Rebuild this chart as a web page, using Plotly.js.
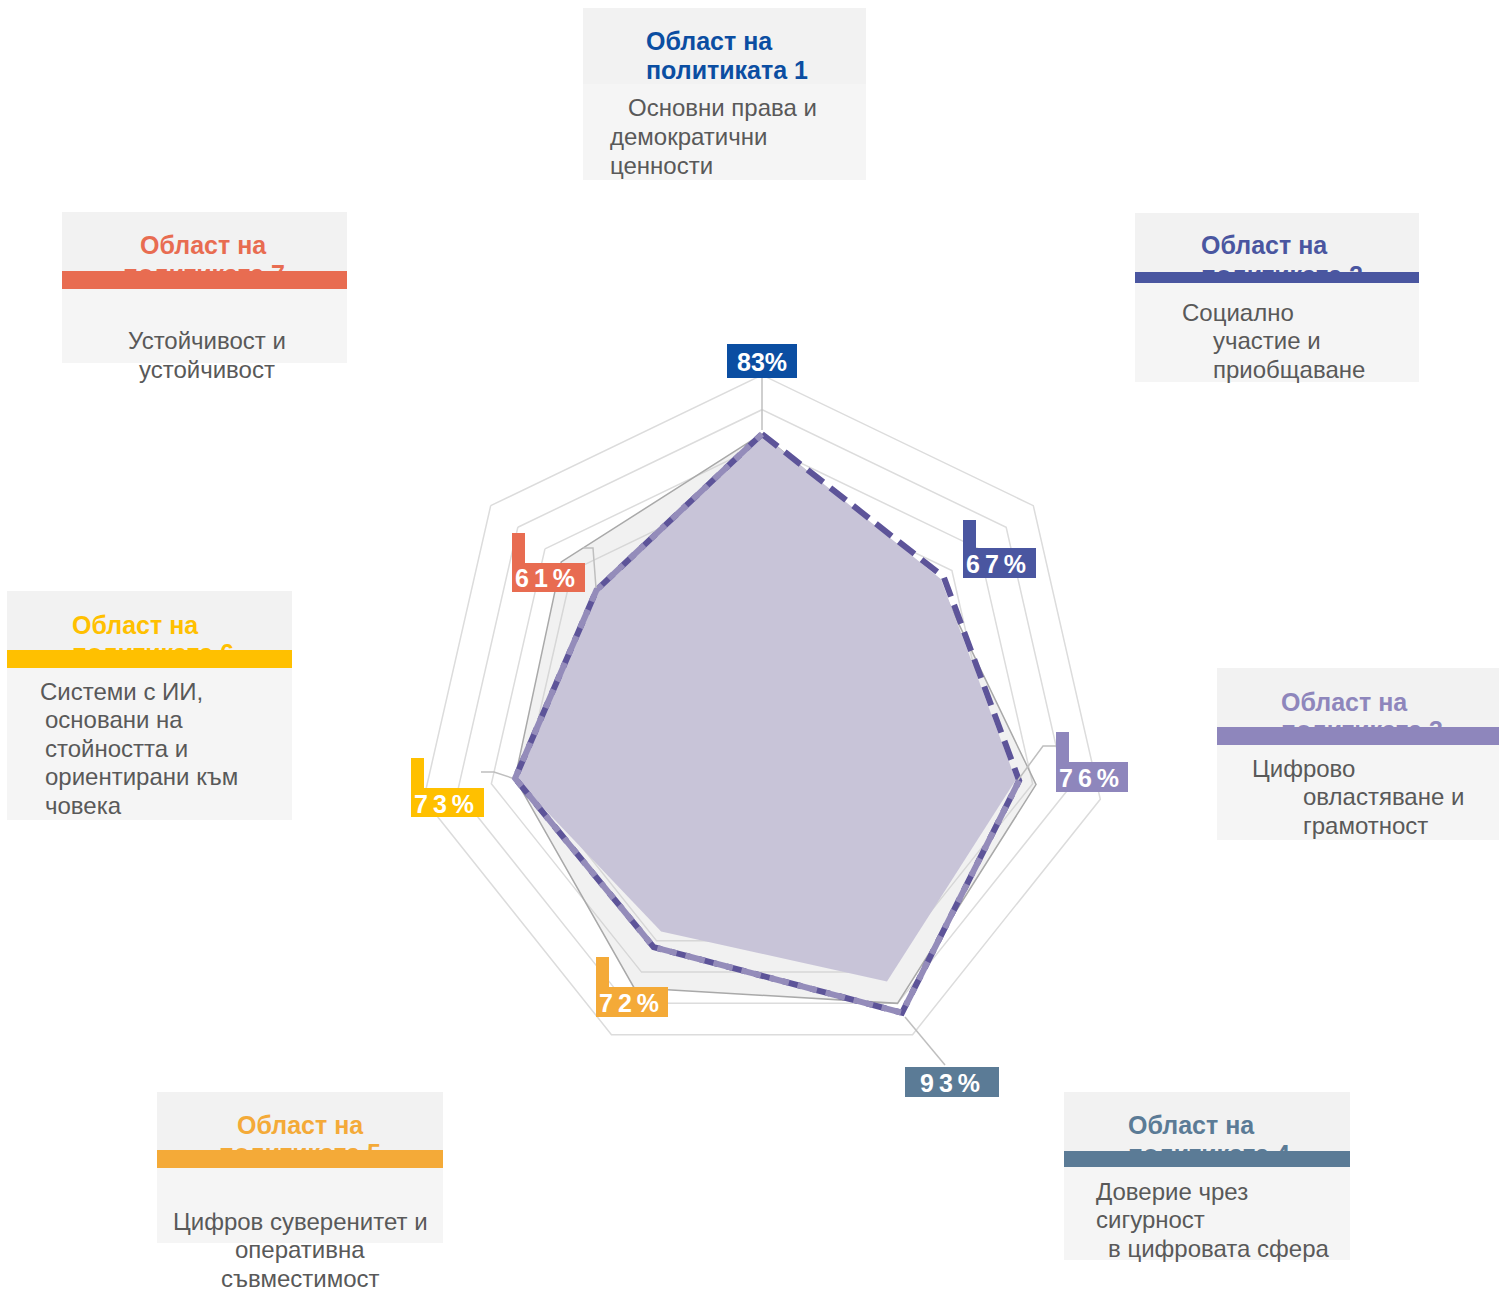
<!DOCTYPE html>
<html>
<head>
<meta charset="utf-8">
<script src="https://cdn.plot.ly/plotly-3.0.1.min.js"></script>
<style>
  html, body { margin: 0; padding: 0; background: #fff; }
</style>
</head>
<body>
<div id="chart" style="width:1499px;height:1292px"></div>
<script>
const W = 1499, H = 1292;

// ---- data ----
const areas = ["Област 1", "Област 2", "Област 3", "Област 4", "Област 5", "Област 6", "Област 7"];
const areaColors = ["#0b4ea2", "#4a56a0", "#8e86bc", "#5b7b96", "#f4aa38", "#ffc000", "#e86c51"];
const scoreValues = [83, 67, 76, 93, 72, 73, 61];      // dashed line, labelled
const referenceValues = [83, 65, 81, 90, 85, 73, 74];  // grey outline
const fillValues = [83, 66, 75, 83, 67, 73, 61];       // purple area
const scoreLabels = ["83%", "67%", "76%", "93%", "72%", "73%", "61%"];

const panelTitle = "Област на";
const panelSubtitles = ["политиката 1", "политиката 2", "политиката 3", "политиката 4",
  "политиката 5", "политиката 6", "политиката 7"];
const panelBodies = [
  ["Основни права и", "демократични", "ценности"],
  ["Социално", "участие и", "приобщаване"],
  ["Цифрово", "овластяване и", "грамотност"],
  ["Доверие чрез", "сигурност", "в цифровата сфера"],
  ["Цифров суверенитет и", "оперативна", "съвместимост"],
  ["Системи с ИИ,", "основани на", "стойността и", "ориентирани към", "човека"],
  ["Устойчивост и", "устойчивост"]
];

// ---- layout helpers (pixel -> paper) ----
const px = x => x / W;
const py = y => 1 - y / H;
const close = arr => arr.concat([arr[0]]);

const cx = 762, cy = 722, R = 347;
const FONT = "Liberation Sans, Arial, sans-serif";

// panel boxes: x range, header top, coloured bar, body bottom, title and body line anchors
const panels = [
  {x0: 583, x1: 866, top: 8, barTop: null, barH: 0, bodyTop: 84, bottom: 180,
   tx: 644, ty: 41, ty2: 70, anchor: "left", bx: [626, 608, 608], by: 108},
  {x0: 1135, x1: 1419, top: 213, barTop: 272, barH: 11, bodyTop: 283, bottom: 382,
   tx: 1199, ty: 245, anchor: "left", bx: [1180, 1211, 1211], by: 312},
  {x0: 1217, x1: 1499, top: 668, barTop: 727, barH: 18, bodyTop: 745, bottom: 840,
   tx: 1279, ty: 702, anchor: "left", bx: [1250, 1301, 1301], by: 768},
  {x0: 1064, x1: 1350, top: 1092, barTop: 1151, barH: 16, bodyTop: 1167, bottom: 1260,
   tx: 1126, ty: 1125, anchor: "left", bx: [1094, 1094, 1106], by: 1191},
  {x0: 157, x1: 443, top: 1092, barTop: 1150, barH: 18, bodyTop: 1168, bottom: 1243,
   tx: 300, ty: 1125, anchor: "center", bx: [300, 300, 300], by: 1221},
  {x0: 7, x1: 292, top: 591, barTop: 650, barH: 18, bodyTop: 668, bottom: 820,
   tx: 70, ty: 625, anchor: "left", bx: [38, 43, 43, 43, 43], by: 691},
  {x0: 62, x1: 347, top: 212, barTop: 271, barH: 18, bodyTop: 289, bottom: 363,
   tx: 204, ty: 245, anchor: "center", bx: [207, 207], by: 341}
];

// value labels: box, optional tail bar on top-left
const labelBoxes = [
  {x0: 727, x1: 797, y0: 344, y1: 378, tail: 0, center: true},
  {x0: 963, x1: 1036, y0: 548, y1: 578, tail: 28},
  {x0: 1056, x1: 1128, y0: 762, y1: 792, tail: 30},
  {x0: 905, x1: 999, y0: 1067, y1: 1097, tail: 0, pad: 13},
  {x0: 596, x1: 668, y0: 987, y1: 1017, tail: 30},
  {x0: 411, x1: 484, y0: 788, y1: 817, tail: 30},
  {x0: 512, x1: 585, y0: 563, y1: 592, tail: 30}
];

const leaders = [
  "M762,378 L762,430",
  "M583,548 L593,548 L596,588",
  "M1057,746 L1043,746 L1018,780",
  "M481,772 L494,772 L512,778",
  "M905,1017 L945,1065"
];

const theta = close(areas);
const lightValues = scoreValues.map((v, i) => (i === 1 ? null : v));
const dashStyle = "20px,9px";

const traces = [
  {
    type: "scatterpolar", mode: "lines", r: close(referenceValues), theta,
    fill: "toself", fillcolor: "rgba(200,200,200,0.25)",
    line: {color: "#a9a9a9", width: 1.5}, hoverinfo: "skip"
  },
  {
    type: "scatterpolar", mode: "lines", r: close(fillValues), theta,
    fill: "toself", fillcolor: "rgb(200,196,216)",
    line: {color: "rgba(0,0,0,0)", width: 0}, hoverinfo: "skip"
  },
  {
    type: "scatterpolar", mode: "lines", r: close(scoreValues), theta,
    line: {color: "#5d5499", width: 6, dash: dashStyle}, hoverinfo: "skip"
  },
  {
    type: "scatterpolar", mode: "lines", r: close(lightValues), theta, connectgaps: false,
    line: {color: "#948cba", width: 6, dash: dashStyle}, hoverinfo: "skip"
  }
];

const shapes = [];
const annotations = [];

// plain coloured block, drawn as an annotation so it stacks over earlier texts
const block = (x0, x1, y0, h, color) => ({
  xref: "paper", yref: "paper", x: px(x0), y: py(y0),
  xanchor: "left", yanchor: "top", showarrow: false, text: " ",
  width: x1 - x0, height: h, bgcolor: color,
  borderpad: 0, borderwidth: 0, font: {size: 1}
});

panels.forEach((p, i) => {
  shapes.push({type: "rect", xref: "paper", yref: "paper", layer: "below",
    x0: px(p.x0), x1: px(p.x1), y0: py(p.bodyTop), y1: py(p.top),
    fillcolor: "#f2f2f2", line: {width: 0}});
  shapes.push({type: "rect", xref: "paper", yref: "paper", layer: "below",
    x0: px(p.x0), x1: px(p.x1), y0: py(p.bottom), y1: py(p.bodyTop),
    fillcolor: "#f5f5f5", line: {width: 0}});

  const titleFont = {family: FONT, size: 25, color: areaColors[i]};
  const ty2 = p.barTop === null ? p.ty2 : p.barTop + 3;
  annotations.push({xref: "paper", yref: "paper", x: px(p.tx), y: py(p.ty),
    xanchor: p.anchor, yanchor: "middle", showarrow: false,
    text: "<b>" + panelTitle + "</b>", font: titleFont});
  annotations.push({xref: "paper", yref: "paper", x: px(p.tx), y: py(ty2),
    xanchor: p.anchor, yanchor: "middle", showarrow: false,
    text: "<b>" + panelSubtitles[i] + "</b>", font: titleFont});
  if (p.barTop !== null) {
    annotations.push(block(p.x0, p.x1, p.barTop, p.barH, areaColors[i]));
    annotations.push(block(p.x0, p.x1, p.bodyTop, 10, "#f5f5f5"));
  }
  panelBodies[i].forEach((line, j) => {
    annotations.push({xref: "paper", yref: "paper", x: px(p.bx[j]), y: py(p.by + j * 28.6),
      xanchor: p.anchor, yanchor: "middle", showarrow: false, text: line,
      font: {family: FONT, size: 24, color: "#595959"}});
  });
});

leaders.forEach(path => {
  shapes.push({type: "path", xref: "paper", yref: "paper", layer: "above",
    path: path.replace(/(\d+),(\d+)/g, (m, x, y) => px(+x) + "," + py(+y)),
    line: {color: "#bfbfbf", width: 1.5}});
});

labelBoxes.forEach((b, i) => {
  shapes.push({type: "rect", xref: "paper", yref: "paper", layer: "above",
    x0: px(b.x0), x1: px(b.x1), y0: py(b.y1), y1: py(b.y0),
    fillcolor: areaColors[i], line: {width: 0}});
  if (b.tail) {
    shapes.push({type: "rect", xref: "paper", yref: "paper", layer: "above",
      x0: px(b.x0), x1: px(b.x0 + 13), y0: py(b.y0), y1: py(b.y0 - b.tail),
      fillcolor: areaColors[i], line: {width: 0}});
  }
  const txt = b.center
    ? "<b>" + scoreLabels[i] + "</b>"
    : "<b><span style=\"letter-spacing:5px\">" + scoreLabels[i] + "</span></b>";
  annotations.push({xref: "paper", yref: "paper",
    x: b.center ? px((b.x0 + b.x1) / 2) : px(b.x0 + (b.pad || 1)),
    y: py((b.y0 + b.y1) / 2 + 1),
    xanchor: b.center ? "center" : "left", yanchor: "middle", showarrow: false,
    text: txt, font: {family: FONT, size: 25, color: "#ffffff"}});
});

const layout = {
  width: W, height: H,
  margin: {l: 0, r: 0, t: 0, b: 0},
  paper_bgcolor: "#ffffff",
  showlegend: false,
  font: {family: FONT},
  polar: {
    domain: {x: [px(cx - R), px(cx + R)], y: [py(cy + R), py(cy - R)]},
    gridshape: "linear",
    bgcolor: "rgba(0,0,0,0)",
    radialaxis: {range: [0, 100], tickvals: [10, 20, 30, 40, 50, 60, 70, 80, 90],
      showticklabels: false, ticks: "", showline: false,
      gridcolor: "#dcdcdc", gridwidth: 1.5},
    angularaxis: {direction: "clockwise", rotation: 90, showticklabels: false, ticks: "",
      showgrid: false, showline: true, linecolor: "#dcdcdc", linewidth: 1.5}
  },
  shapes,
  annotations
};

Plotly.newPlot("chart", traces, layout, {displayModeBar: false, staticPlot: true});
</script>
</body>
</html>
